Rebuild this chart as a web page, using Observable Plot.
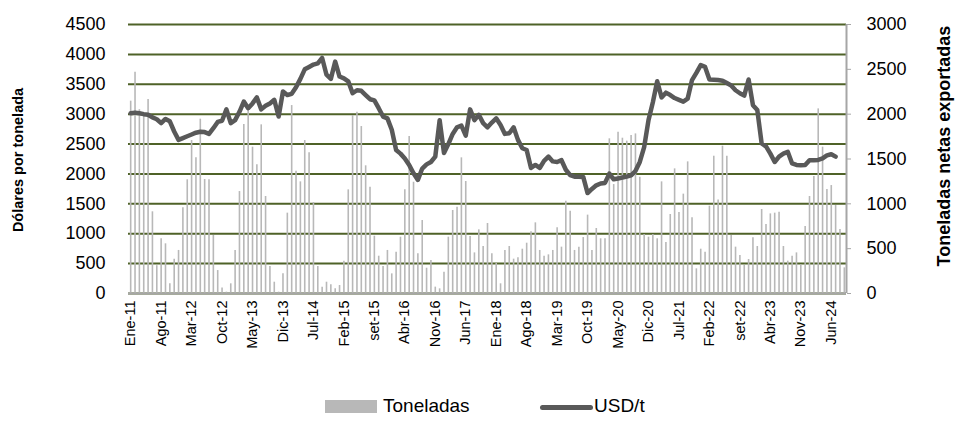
<!DOCTYPE html>
<html>
<head>
<meta charset="utf-8">
<script src="https://cdn.jsdelivr.net/npm/d3@7"></script>
<script src="https://cdn.jsdelivr.net/npm/@observablehq/plot@0.6"></script>
<style>
  body { margin: 0; background: #fff; font-family: "Liberation Sans", Arial, sans-serif; }
  #chart { position: relative; width: 962px; height: 424px; overflow: hidden; }
  #chart svg { display: block; }
  .legend { position: absolute; top: 395px; left: 0; width: 962px; height: 24px; font-size: 19px; color: #000; }
  .legend span { position: absolute; white-space: nowrap; }
</style>
</head>
<body>
<div id="chart"></div>
<script>
// Monthly series, Jan-2011 .. Sep-2024
const tons = [
  2145,2468,2050,2000,2163,911,310,610,554,108,
  383,480,955,1268,1706,1513,1944,1271,1268,647,
  256,60,15,108,480,1137,1885,2059,1632,1435,
  1881,1082,301,126,15,219,896,2096,1364,1245,
  1706,1569,1015,301,71,126,97,52,89,361,
  1156,1985,2022,1862,1424,1186,639,416,301,480,
  219,461,628,1156,1751,1241,442,814,282,368,
  71,52,238,628,926,963,1513,1249,636,453,
  710,524,781,442,335,108,480,524,383,398,
  494,561,688,788,480,416,431,480,732,517,
  1030,918,480,517,624,874,480,725,610,610,
  1725,1215,1799,1732,1699,1762,1780,1297,658,628,
  658,610,1245,569,881,1390,903,1108,1468,844,
  275,494,461,974,1531,1044,1643,1531,647,517,
  424,312,379,621,524,937,769,888,896,907,
  524,361,416,453,320,747,1082,1305,2059,1632,
  1160,1204,981,714,286
];
const usdPerTon = [
  3015,3026,3015,3000,2990,2945,2915,2850,2920,2880,
  2710,2570,2600,2630,2660,2690,2705,2700,2670,2765,
  2870,2890,3080,2850,2900,3040,3210,3100,3180,3280,
  3080,3140,3180,3240,2960,3380,3320,3340,3450,3590,
  3750,3790,3830,3850,3940,3660,3590,3880,3630,3600,
  3550,3350,3400,3390,3320,3250,3230,3100,2960,2930,
  2740,2400,2340,2260,2150,2010,1900,2090,2160,2200,
  2290,2900,2350,2500,2670,2780,2810,2640,3080,2900,
  2990,2850,2780,2860,2930,2820,2670,2680,2780,2570,
  2430,2400,2100,2150,2100,2220,2290,2210,2200,2230,
  2070,1980,1955,1955,1950,1680,1750,1810,1840,1850,
  2005,1910,1925,1940,1955,1975,2050,2200,2450,2900,
  3200,3550,3280,3360,3320,3270,3240,3210,3260,3570,
  3690,3820,3790,3580,3575,3570,3560,3520,3480,3400,
  3350,3310,3580,3150,3070,2510,2460,2340,2200,2290,
  2340,2370,2175,2150,2145,2150,2230,2230,2235,2260,
  2310,2330,2290
];
const xTickLabels = ["Ene-11","Ago-11","Mar-12","Oct-12","May-13","Dic-13","Jul-14","Feb-15","set-15","Abr-16","Nov-16","Jun-17","Ene-18","Ago-18","Mar-19","Oct-19","May-20","Dic-20","Jul-21","Feb-22","set-22","Abr-23","Nov-23","Jun-24"];
const tickStep = 7;
const leftTicks = [0,500,1000,1500,2000,2500,3000,3500,4000,4500];
const rightTicks = [0,500,1000,1500,2000,2500,3000];
const seriesNames = ["Toneladas", "USD/t"];
const leftTitle = "Dólares por tonelada";
const rightTitle = "Toneladas netas exportadas";

const leftMax = 4500, rightMax = 3000;
const ratio = leftMax / rightMax;

const data = tons.map((t, i) => ({i, tons: t, usd: i < usdPerTon.length ? usdPerTon[i] : null}));

const barColor = "#b8b8b8";
const lineColor = "#595959";
const gridColor = "#4F6228";
const axisColor = "#a6a6a6";

const plot = Plot.plot({
  width: 962,
  height: 390,
  marginTop: 24,
  marginBottom: 97,
  marginLeft: 128,
  marginRight: 116,
  style: {fontFamily: "'Liberation Sans', Arial, sans-serif", background: "transparent", color: "#000"},
  x: {domain: [-0.5, tons.length - 0.5]},
  y: {domain: [0, leftMax]},
  marks: [
    Plot.gridY(leftTicks, {stroke: gridColor, strokeOpacity: 1, strokeWidth: 2}),
    Plot.ruleX(data, {x: "i", y1: 0, y2: d => d.tons * ratio, stroke: barColor, strokeWidth: 1.6}),
    Plot.ruleY([0], {stroke: axisColor, strokeWidth: 2}),
    Plot.ruleX([tons.length - 0.5], {stroke: axisColor, strokeWidth: 2}),
    Plot.line(data.filter(d => d.usd != null), {x: "i", y: "usd", stroke: lineColor, strokeWidth: 4.5, strokeLinejoin: "round", strokeLinecap: "round"}),
    Plot.axisY(leftTicks, {anchor: "left", tickSize: 0, tickPadding: 23, fontSize: 18, tickFormat: v => String(v), label: null}),
    Plot.axisY(rightTicks.map(v => v * ratio), {anchor: "right", tickSize: 4, tickPadding: 16, stroke: axisColor, fontSize: 18, tickFormat: v => String(Math.round(v / ratio)), label: null}),
    Plot.axisX(xTickLabels.map((_, j) => j * tickStep), {anchor: "bottom", tickSize: 0, tickPadding: 7, tickRotate: -90, fontSize: 14.5, tickFormat: v => xTickLabels[v / tickStep], label: null}),
    Plot.text([leftTitle], {frameAnchor: "left", textAnchor: "middle", dx: -110, dy: 1, rotate: -90, fontSize: 14.5, fontWeight: "bold", fill: "#000"}),
    Plot.text([rightTitle], {frameAnchor: "right", textAnchor: "middle", dx: 98, dy: -13, rotate: -90, fontSize: 18, fontWeight: "bold", fill: "#000"})
  ]
});

const chart = document.getElementById("chart");
chart.appendChild(plot);

const legend = document.createElement("div");
legend.className = "legend";
legend.innerHTML =
  `<span style="left:325px;top:5px;width:52px;height:13px;background:${barColor}"></span>` +
  `<span style="left:383px;top:0">${seriesNames[0]}</span>` +
  `<span style="left:540px;top:10px;width:53px;height:5px;background:${lineColor};border-radius:3px"></span>` +
  `<span style="left:594px;top:0">${seriesNames[1]}</span>`;
chart.appendChild(legend);
</script>
</body>
</html>
